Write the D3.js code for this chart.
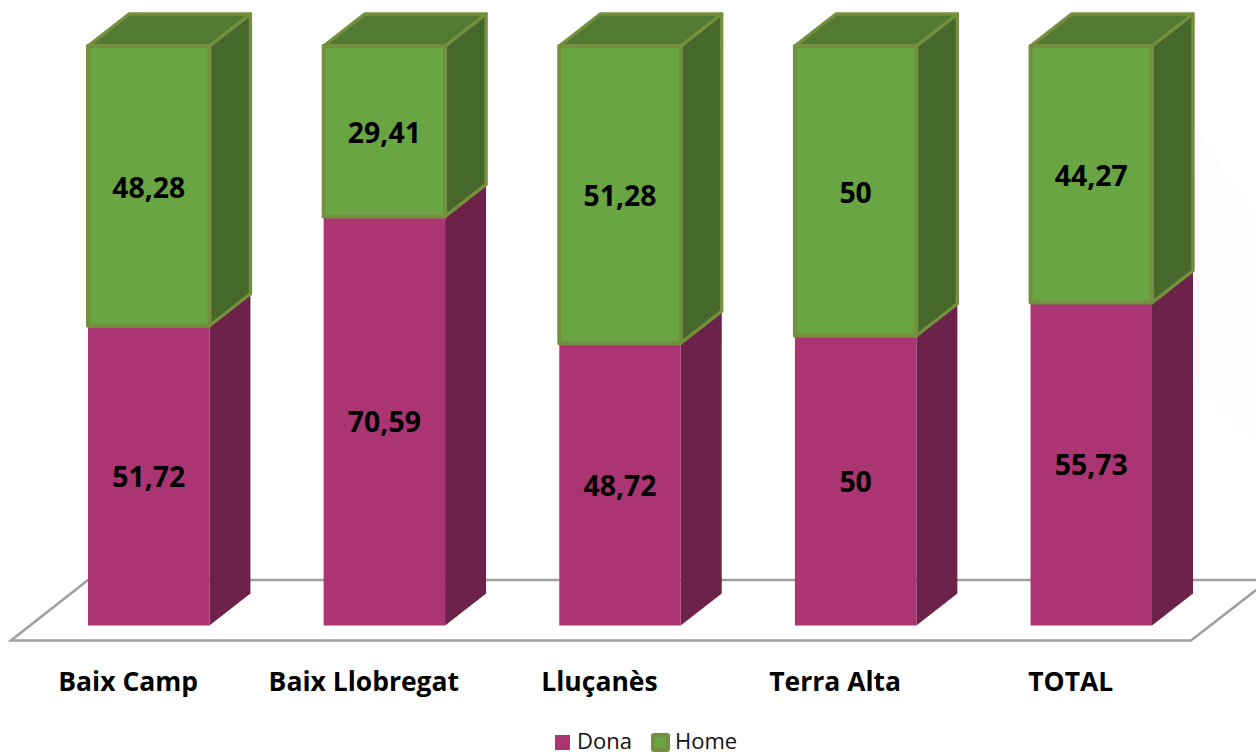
<!DOCTYPE html>
<html><head><meta charset="utf-8">
<script src="https://cdn.jsdelivr.net/npm/d3@7"></script>
<style>html,body{margin:0;padding:0;background:#fff}svg{display:block}text{font-family:"Open Sans",sans-serif}</style>
</head><body><svg id="c" width="1256" height="755"></svg>
<script>
const categories = ["Baix Camp","Baix Llobregat","Lluçanès","Terra Alta","TOTAL"];
const dona = [51.72,70.59,48.72,50,55.73];
const home = [48.28,29.41,51.28,50,44.27];
const donaLabels = ["51,72","70,59","48,72","50","55,73"];
const homeLabels = ["48,28","29,41","51,28","50","44,27"];
const legendNames = ["Dona","Home"];

const svg = d3.select("#c");
const x = d3.scaleBand().domain(categories).range([88,1152]).paddingInner(0.4846).paddingOuter(0);
const y = d3.scaleLinear().domain([0,100]).range([625.5,46]);
const dx = 41, dy = -32, catShift = -20.5;
const col = {pF:"#ab3473",pS:"#6c2249",gF:"#6aa544",gS:"#46682a",gT:"#527a33",gE:"#74903f"};
const line = d3.line();

// faint background shape
svg.append("path").attr("d",line([[1197,130],[1256,215],[1256,445],[1195,380]])+"Z").attr("fill","#fdfbfc");

// floor
svg.append("path").attr("d",line([[1256,580],[88,580],[11,640.5],[1191,640.5],[1256,590]]))
  .attr("fill","none").attr("stroke","#a0a0a0").attr("stroke-width",2.6);

const g = svg.selectAll("g.bar").data(categories).join("g").attr("class","bar");
g.each(function(c,i){
  const s = d3.select(this), l = x(c), r = l + x.bandwidth();
  const y0 = y(0), y1 = y(dona[i]), y2 = y(dona[i]+home[i]);
  // pink
  s.append("path").attr("d",line([[r,y0],[r+dx,y0+dy],[r+dx,y1+dy],[r,y1]])+"Z").attr("fill",col.pS);
  s.append("rect").attr("x",l).attr("y",y1).attr("width",r-l).attr("height",y0-y1).attr("fill",col.pF);
  // green
  const a = (sel,w)=>sel.attr("stroke",col.gE).attr("stroke-width",w).attr("stroke-linejoin","round");
  a(s.append("path").attr("d",line([[r,y1],[r+dx,y1+dy],[r+dx,y2+dy],[r,y2]])+"Z").attr("fill",col.gS),3.4);
  a(s.append("path").attr("d",line([[l,y2],[l+dx,y2+dy],[r+dx,y2+dy],[r,y2]])+"Z").attr("fill",col.gT),3.4);
  a(s.append("rect").attr("x",l).attr("y",y2).attr("width",r-l).attr("height",y1-y2).attr("fill",col.gF),4);
  // data labels
  const t = (yy,txt)=>s.append("text").attr("x",(l+r)/2).attr("y",yy).attr("dy","0.36em")
    .attr("text-anchor","middle").attr("font-size",28.4).attr("font-weight",700).attr("fill","#000").text(txt);
  t((y0+y1)/2+1,donaLabels[i]);
  t((y1+y2)/2+1.5,homeLabels[i]);
  // category label
  s.append("text").attr("x",(l+r)/2+catShift).attr("y",681).attr("dy","0.36em")
    .attr("text-anchor","middle").attr("font-size",26.5).attr("font-weight",700).attr("fill","#000").text(c);
});

// legend
svg.append("rect").attr("x",555).attr("y",735).attr("width",15).attr("height",15).attr("fill",col.pF);
svg.append("rect").attr("x",653).attr("y",735).attr("width",15).attr("height",15).attr("rx",1).attr("fill",col.gF).attr("stroke",col.gE).attr("stroke-width",4);
svg.append("text").attr("x",577).attr("y",748.5).attr("font-size",22).attr("fill","#111").text(legendNames[0]);
svg.append("text").attr("x",675).attr("y",748.5).attr("font-size",22).attr("fill","#111").text(legendNames[1]);
</script></body></html>
